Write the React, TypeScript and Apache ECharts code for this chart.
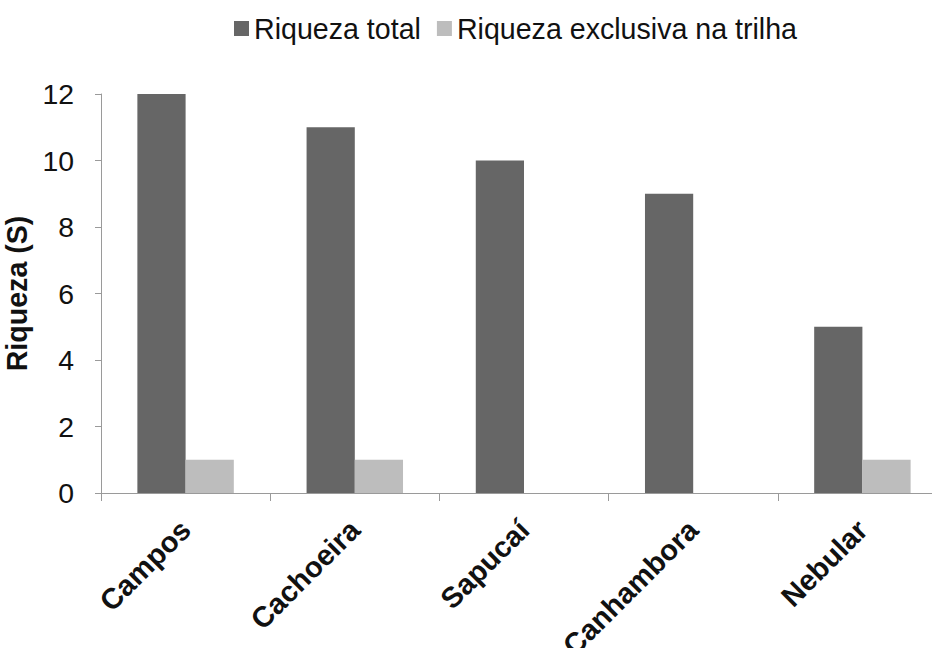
import React, { useEffect, useRef } from "react";
import * as echarts from "echarts";

// Trail names and species richness per trail
const trilhas = ["Campos", "Cachoeira", "Sapucaí", "Canhambora", "Nebular"];
const riquezaTotal = [12, 11, 10, 9, 5];
const riquezaExclusiva = [1, 1, 0, 0, 1];
const seriesNames = ["Riqueza total", "Riqueza exclusiva na trilha"];

const FONT = "Liberation Sans, Arial, Helvetica, sans-serif";

export default function App() {
  const ref = useRef<HTMLDivElement>(null);

  useEffect(() => {
    if (!ref.current) return;
    const chart = echarts.init(ref.current, undefined, { renderer: "svg" });
    chart.setOption({
      animation: false,
      backgroundColor: "#ffffff",
      textStyle: { fontFamily: FONT },
      legend: {
        left: 229,
        top: 9,
        itemWidth: 15,
        itemHeight: 15,
        itemGap: 16,
        icon: "rect",
        textStyle: { fontSize: 28.6, color: "#111", fontFamily: FONT },
        data: seriesNames,
      },
      grid: {
        left: 101,
        top: 94,
        height: 399,
        width: 846,
        containLabel: false,
        outerBoundsMode: "none",
      },
      xAxis: {
        type: "category",
        data: trilhas,
        axisLine: { lineStyle: { color: "#9a9a9a", width: 1 } },
        axisTick: { show: true, length: 8, lineStyle: { color: "#9a9a9a" } },
        axisLabel: {
          rotate: 45,
          margin: 32,
          fontSize: 29,
          fontWeight: "bold",
          color: "#111",
          fontFamily: FONT,
          interval: 0,
        },
      },
      yAxis: {
        type: "value",
        min: 0,
        max: 12,
        interval: 2,
        name: "Riqueza (S)",
        nameLocation: "middle",
        nameGap: 58,
        nameTextStyle: { fontSize: 28.6, fontWeight: "bold", color: "#111", fontFamily: FONT },
        axisLine: { show: true, lineStyle: { color: "#9a9a9a", width: 1 } },
        axisTick: { show: true, length: 6, lineStyle: { color: "#9a9a9a" } },
        splitLine: { show: false },
        axisLabel: { fontSize: 28.4, color: "#111", margin: 27, fontFamily: FONT },
      },
      series: [
        {
          name: seriesNames[0],
          type: "bar",
          data: riquezaTotal,
          barGap: "0%",
          barCategoryGap: "43%",
          itemStyle: { color: "#666666" },
        },
        {
          name: seriesNames[1],
          type: "bar",
          data: riquezaExclusiva,
          barGap: "0%",
          barCategoryGap: "43%",
          itemStyle: { color: "#bdbdbd" },
        },
      ],
    });
    return () => chart.dispose();
  }, []);

  return (
    <div
      ref={ref}
      style={{ position: "fixed", left: 0, top: 0, width: 932, height: 648, background: "#fff" }}
    />
  );
}
